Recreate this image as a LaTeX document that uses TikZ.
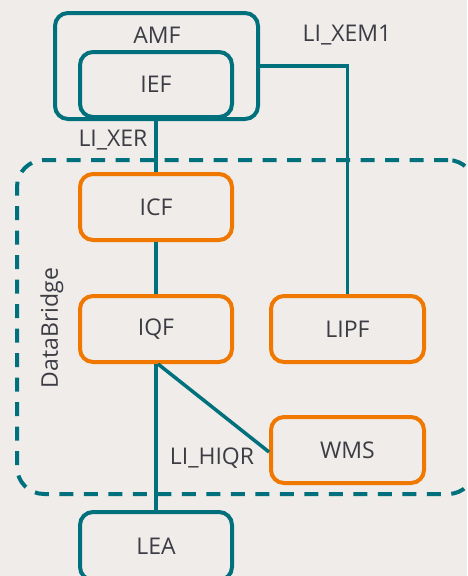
\documentclass[tikz,border=0pt]{standalone}
\usepackage{fontspec}
\setmainfont{Open Sans}
\definecolor{bg}{HTML}{EFECE9}
\definecolor{teal}{HTML}{00717C}
\definecolor{orng}{HTML}{F07800}
\definecolor{txt}{HTML}{3C3D44}
\begin{document}
\begin{tikzpicture}[x=1pt,y=-1pt,
  every node/.style={text=txt, font=\fontsize{23}{27}\selectfont},
  tbox/.style={draw=teal, line width=4pt, rounded corners=13pt, minimum width=152pt, minimum height=66pt, inner sep=0pt},
  obox/.style={draw=orng, line width=4pt, rounded corners=13pt, minimum width=152pt, minimum height=66pt, inner sep=0pt},
  conn/.style={draw=teal, line width=3.5pt},
  lbl/.style={inner sep=0pt}]
\useasboundingbox[fill=bg] (0,0) rectangle (467,576);
% DataBridge dashed group
\node[draw=teal, line width=4pt, dash pattern=on 14pt off 10.5pt, rounded corners=27pt,
      minimum width=458pt, minimum height=334pt, inner sep=0pt] (bridge) at (246,327) {};
\node[lbl, rotate=90] (bridgelbl) at (52,328) {DataBridge};
% AMF / IEF
\node[tbox, minimum width=203pt, minimum height=106pt] (amf) at (156.5,66) {};
\node[lbl] (amflbl) at (157,35) {AMF};
\node[tbox, minimum height=65pt] (ief) at (156,84.5) {\raisebox{-3pt}{IEF}};
% DataBridge nodes
\node[obox] (icf) at (156,207) {ICF};
\node[obox] (iqf) at (156,329) {IQF};
\node[obox, minimum width=153pt] (lipf) at (347.5,329) {LIPF};
\node[obox, minimum width=153pt] (wms) at (347.5,450) {\raisebox{-2pt}{WMS}};
\node[tbox, minimum height=68pt] (lea) at (156,546) {\raisebox{-2pt}{LEA}};
% connectors
\draw[conn] (ief.south) -- (icf.north);
\draw[conn] (icf.south) -- (iqf.north);
\draw[conn] (iqf.south) -- (lea.north);
\draw[conn] ([xshift=2pt]iqf.south) -- ([yshift=-2pt]wms.west);
\draw[conn] (amf.east) -- (amf.east -| lipf.north) -- (lipf.north);
% labels
\node[lbl] (xem1) at (347,35) {LI\_XEM1};
\node[lbl] (xer) at (113,140) {LI\_XER};
\node[lbl] (hiqr) at (212,458) {LI\_HIQR};
\end{tikzpicture}
\end{document}
